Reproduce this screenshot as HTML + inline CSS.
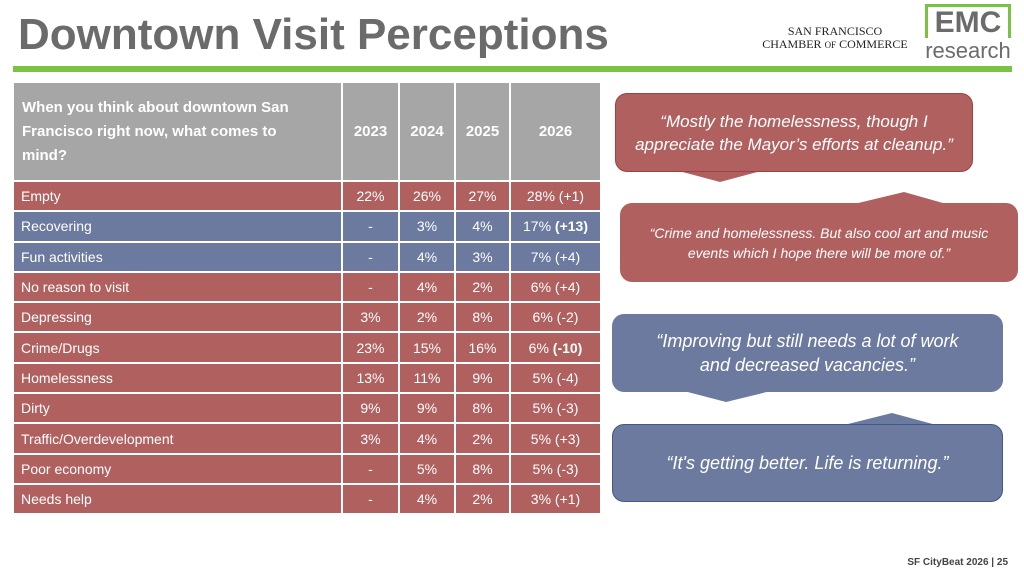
<!DOCTYPE html>
<html><head><meta charset="utf-8"><style>
*{margin:0;padding:0;box-sizing:border-box}
body{width:1024px;height:576px;background:#fff;position:relative;overflow:hidden;font-family:"Liberation Sans",sans-serif}
.title{position:absolute;left:18px;top:10px;font-size:44px;font-weight:bold;color:#6b6b6b;letter-spacing:0px}
.bar{position:absolute;left:13px;top:66px;width:999px;height:6px;background:#7cc242}
table{position:absolute;left:12px;top:81px;border-collapse:collapse;width:588px;color:#fff;font-size:14px;table-layout:fixed}
td{border:2px solid #fff;height:30.3px;text-align:center;padding:0}
td:first-child{text-align:left;padding-left:7px}
th{background:#a6a6a6;border:2px solid #fff;height:99px;font-size:15px;font-weight:bold}
th:first-child{text-align:left;padding-left:8px;padding-right:20px;line-height:24px}
.r td{background:#b0605f}.b td{background:#6b7a9e}
.bub{position:absolute;color:#fff;font-style:italic;text-align:center;display:flex;align-items:center;justify-content:center;border-radius:12px}
svg{position:absolute;left:0;top:0}
.foot{position:absolute;right:16px;bottom:8px;font-size:10px;font-weight:bold;color:#444}
</style></head><body>
<div class="title">Downtown Visit Perceptions</div>
<div style="position:absolute;left:755px;top:25px;font-family:'Liberation Serif',serif;font-size:12px;line-height:13px;color:#222;text-align:center;width:160px">SAN FRANCISCO<br>CHAMBER <span style="font-size:9px">OF</span> COMMERCE</div>
<div style="position:absolute;left:925px;top:4px;width:86px;height:34px;border:3px solid #7cc242;border-bottom:none;font-size:30px;font-weight:bold;color:#6b6b6b;text-align:center;line-height:32px">EMC</div>
<div style="position:absolute;left:925px;top:38px;width:86px;font-size:22px;color:#6b6b6b;text-align:center;line-height:26px">research</div>
<div class="bar"></div>
<table>
<colgroup><col style="width:329px"><col style="width:57px"><col style="width:56px"><col style="width:55px"><col style="width:91px"></colgroup>
<tr><th>When you think about downtown San Francisco right now, what comes to mind?</th><th>2023</th><th>2024</th><th>2025</th><th>2026</th></tr>
<tr class="r"><td>Empty</td><td>22%</td><td>26%</td><td>27%</td><td>28% (+1)</td></tr>
<tr class="b"><td>Recovering</td><td>-</td><td>3%</td><td>4%</td><td>17% <b>(+13)</b></td></tr>
<tr class="b"><td>Fun activities</td><td>-</td><td>4%</td><td>3%</td><td>7% (+4)</td></tr>
<tr class="r"><td>No reason to visit</td><td>-</td><td>4%</td><td>2%</td><td>6% (+4)</td></tr>
<tr class="r"><td>Depressing</td><td>3%</td><td>2%</td><td>8%</td><td>6% (-2)</td></tr>
<tr class="r"><td>Crime/Drugs</td><td>23%</td><td>15%</td><td>16%</td><td>6% <b>(-10)</b></td></tr>
<tr class="r"><td>Homelessness</td><td>13%</td><td>11%</td><td>9%</td><td>5% (-4)</td></tr>
<tr class="r"><td>Dirty</td><td>9%</td><td>9%</td><td>8%</td><td>5% (-3)</td></tr>
<tr class="r"><td>Traffic/Overdevelopment</td><td>3%</td><td>4%</td><td>2%</td><td>5% (+3)</td></tr>
<tr class="r"><td>Poor economy</td><td>-</td><td>5%</td><td>8%</td><td>5% (-3)</td></tr>
<tr class="r"><td>Needs help</td><td>-</td><td>4%</td><td>2%</td><td>3% (+1)</td></tr>
</table>
<svg width="1024" height="576">
<polygon points="675,170 765,170 720,182" fill="#b0605f"/>
<polygon points="850,205 950,205 904,192" fill="#b0605f"/>
<polygon points="680,390 775,390 726,402" fill="#6b7a9e"/>
<polygon points="840,426 940,426 892,413" fill="#6b7a9e"/>
</svg>
<div class="bub" style="left:615px;top:93px;width:358px;height:79px;background:#b0605f;border:1px solid #a04040;font-size:17px;line-height:23px">“Mostly the homelessness, though I<br>appreciate the Mayor’s efforts at cleanup.”</div>
<div class="bub" style="left:620px;top:203px;width:398px;height:79px;background:#b0605f;font-size:14px;line-height:20px">“Crime and homelessness. But also cool art and music<br>events which I hope there will be more of.”</div>
<div class="bub" style="left:612px;top:314px;width:391px;height:78px;background:#6b7a9e;font-size:18px;line-height:24px">“Improving but still needs a lot of work<br>and decreased vacancies.”</div>
<div class="bub" style="left:612px;top:424px;width:391px;height:78px;background:#6b7a9e;border:1px solid #3c5a8a;font-size:18px">“It's getting better. Life is returning.”</div>
<div class="foot">SF CityBeat 2026 | 25</div>
</body></html>
